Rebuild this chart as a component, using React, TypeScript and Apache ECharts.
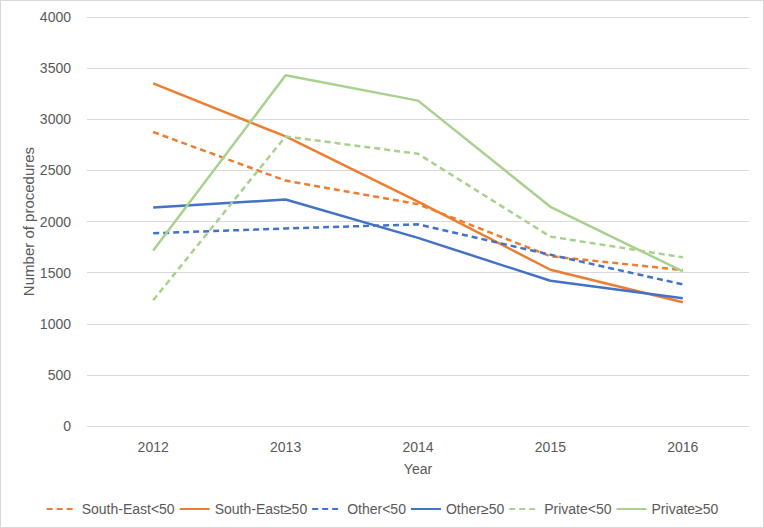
import React, { useEffect, useRef } from "react";
import * as echarts from "echarts";

const years = ["2012", "2013", "2014", "2015", "2016"];
const seLt50 = [2875, 2400, 2170, 1660, 1525];
const seGe50 = [3350, 2832, 2195, 1528, 1210];
const otherLt50 = [1885, 1932, 1972, 1675, 1385];
const otherGe50 = [2138, 2215, 1840, 1420, 1250];
const privLt50 = [1230, 2832, 2662, 1852, 1650];
const privGe50 = [1716, 3430, 3182, 2144, 1512];

const ORANGE = "#ED7D31";
const BLUE = "#4472C4";
const GREEN = "#A9D18E";
const FONT = "'Liberation Sans', sans-serif";
const TXT = "#595959";

export default function App() {
  const ref = useRef<HTMLDivElement>(null);
  useEffect(() => {
    if (!ref.current) return;
    const chart = echarts.init(ref.current, undefined, { renderer: "svg" });
    const mk = (name: string, data: number[], color: string, dashed: boolean) => ({
      name,
      type: "line",
      data,
      symbol: "none",
      showSymbol: false,
      lineStyle: { color, width: 2.5, type: dashed ? [6, 4] : "solid", cap: "butt" },
      itemStyle: { color },
    });
    chart.setOption({
      animation: false,
      textStyle: { fontFamily: FONT },
      grid: { left: 86, right: 14, top: 16, bottom: 101, containLabel: false },
      legend: {
        bottom: 6,
        left: "center",
        itemWidth: 30,
        itemHeight: 10,
        itemGap: 4,
        itemStyle: { opacity: 0 },
        textStyle: { fontFamily: FONT, fontSize: 14, color: TXT },
        data: ["South-East<50", "South-East≥50", "Other<50", "Other≥50", "Private<50", "Private≥50"],
      },
      xAxis: {
        type: "category",
        data: years,
        boundaryGap: true,
        name: "Year",
        nameLocation: "middle",
        nameGap: 36,
        nameMoveOverlap: false,
        nameTextStyle: { fontFamily: FONT, fontSize: 14, color: TXT },
        axisLine: { show: true, lineStyle: { color: "#d9d9d9", width: 1 } },
        axisTick: { show: false },
        axisLabel: { fontFamily: FONT, fontSize: 14, color: TXT, margin: 14 },
      },
      yAxis: {
        type: "value",
        min: 0,
        max: 4000,
        interval: 500,
        name: "Number of procedures",
        nameLocation: "middle",
        nameGap: 51,
        nameMoveOverlap: false,
        nameTextStyle: { fontFamily: FONT, fontSize: 15, color: TXT },
        axisLine: { show: false },
        axisTick: { show: false },
        axisLabel: {
          fontFamily: FONT,
          fontSize: 14,
          color: TXT,
          margin: 16,
          formatter: (v: number) => String(v),
        },
        splitLine: { lineStyle: { color: "#d9d9d9", width: 1 } },
      },
      series: [
        mk("South-East<50", seLt50, ORANGE, true),
        mk("South-East≥50", seGe50, ORANGE, false),
        mk("Other<50", otherLt50, BLUE, true),
        mk("Other≥50", otherGe50, BLUE, false),
        mk("Private<50", privLt50, GREEN, true),
        mk("Private≥50", privGe50, GREEN, false),
      ],
    });
    return () => chart.dispose();
  }, []);
  return (
    <div
      style={{
        position: "fixed",
        left: 0,
        top: 0,
        width: 764,
        height: 528,
        boxSizing: "border-box",
        border: "1px solid #d9d9d9",
        background: "#fff",
      }}
    >
      <div ref={ref} style={{ width: 762, height: 526 }} />
    </div>
  );
}
